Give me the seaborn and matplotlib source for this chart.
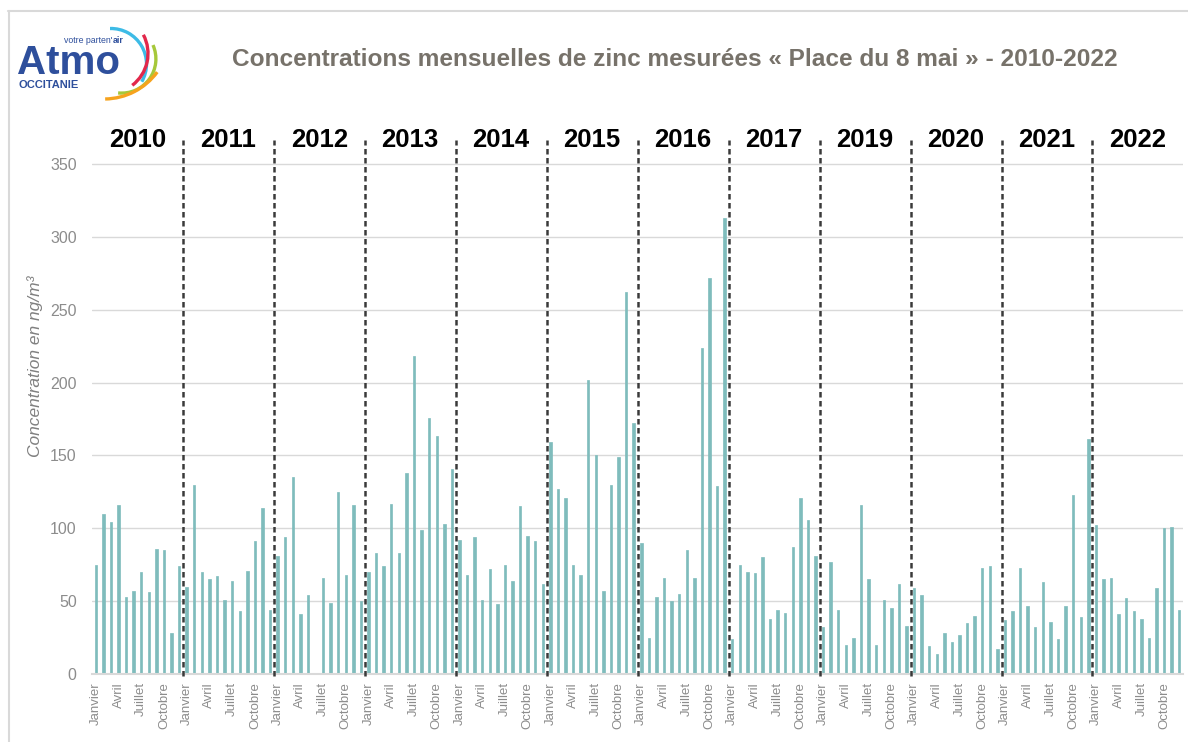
import numpy as np
import pandas as pd
import matplotlib
matplotlib.use("Agg")
import matplotlib.pyplot as plt
import seaborn as sns
from matplotlib import font_manager as fm
from matplotlib.patches import Arc
from matplotlib.lines import Line2D

# ---------------- data ----------------
years = ["2010", "2011", "2012", "2013", "2014", "2015", "2016", "2017", "2019", "2020", "2021", "2022"]
months = ["Janvier", "Février", "Mars", "Avril", "Mai", "Juin",
          "Juillet", "Août", "Septembre", "Octobre", "Novembre", "Décembre"]
shown_months = ["Janvier", "Avril", "Juillet", "Octobre"]

v2010 = [75, 110, 104, 116, 53, 57, 70, 56, 86, 85, 28, 74]
v2011 = [60, 130, 70, 65, 67, 51, 64, 43, 71, 91, 114, 44]
v2012 = [81, 94, 135, 41, 54, np.nan, 66, 49, 125, 68, 116, 50]
v2013 = [70, 83, 74, 117, 83, 138, 218, 99, 176, 163, 103, 141]
v2014 = [92, 68, 94, 51, 72, 48, 75, 64, 115, 95, 91, 62]
v2015 = [159, 127, 121, 75, 68, 202, 150, 57, 130, 149, 262, 172]
v2016 = [90, 25, 53, 66, 50, 55, 85, 66, 224, 272, 129, 313]
v2017 = [24, 75, 70, 69, 80, 38, 44, 42, 87, 121, 106, 81]
v2019 = [32, 77, 44, 20, 25, 116, 65, 20, 51, 45, 62, 33]
v2020 = [59, 54, 19, 14, 28, 22, 27, 35, 40, 73, 74, 17]
v2021 = [37, 43, 73, 47, 32, 63, 36, 24, 47, 123, 39, 161]
v2022 = [102, 65, 66, 41, 52, 43, 38, 25, 59, 100, 101, 44]

series = [v2010, v2011, v2012, v2013, v2014, v2015, v2016, v2017, v2019, v2020, v2021, v2022]

title = "Concentrations mensuelles de zinc mesurées « Place du 8 mai » - 2010-2022"
ylabel = "Concentration en ng/m³"
yticks = [0, 50, 100, 150, 200, 250, 300, 350]

# ---------------- fonts ----------------
names = {f.name for f in fm.fontManager.ttflist}
narrow = "Liberation Sans Narrow" if "Liberation Sans Narrow" in names else "Liberation Sans"
arial = "Liberation Sans"

rows = []
for y, vals in zip(years, series):
    for m, v in zip(months, vals):
        rows.append({"slot": f"{y}-{m}", "year": y, "month": m, "value": v})
df = pd.DataFrame(rows)
order = list(df["slot"])

sns.set_theme(style="white")
plt.rcParams["font.family"] = [arial, "DejaVu Sans"]

W, H = 1188, 742
fig = plt.figure(figsize=(W / 100, H / 100), dpi=100)
fig.patch.set_facecolor("white")

# plot area
left, right, bottom, top = 92, 1183, 674, 140
ax = fig.add_axes([left / W, 1 - bottom / H, (right - left) / W, (bottom - top) / H])
ymax = 350 * (bottom - top) / (bottom - 164)

bar_color = "#7fbcbc"
sns.barplot(data=df, x="slot", y="value", order=order, color=bar_color,
            width=0.32, errorbar=None, saturation=1, ax=ax,
            edgecolor=bar_color, linewidth=0.5)
ax.set_ylim(0, ymax)
ax.set_xlim(-0.5, len(order) - 0.5)

ax.set_yticks(yticks)
ax.set_yticklabels([str(t) for t in yticks], fontsize=11.5, color="#8c8c8c", family=narrow)
ax.yaxis.grid(True, color="#d9d9d9", lw=1)
ax.set_axisbelow(True)
ax.tick_params(axis="y", length=0, pad=11)

tick_pos = [i for i, m in enumerate(df["month"]) if m in shown_months]
ax.set_xticks(tick_pos)
ax.set_xticklabels([df["month"][i] for i in tick_pos], rotation=90, fontsize=9.5,
                   color="#8c8c8c", family=narrow)
ax.tick_params(axis="x", length=0, pad=6)
ax.set_xlabel("")
ax.set_ylabel("")
for s in ["top", "right", "left"]:
    ax.spines[s].set_visible(False)
ax.spines["bottom"].set_color("#d9d9d9")
ax.spines["bottom"].set_linewidth(1.5)

# year separators and labels
for k in range(1, len(years)):
    ax.plot([12 * k - 0.45] * 2, [-1.5, ymax], color="#3a3a3a", lw=1.8,
            ls=(0, (2.2, 1.4)), clip_on=False, zorder=5)
for k, y in enumerate(years):
    ax.text(12 * k + 5.5, ymax, y, ha="center", va="center", fontsize=18.5,
            fontweight="bold", color="black", family=arial, clip_on=False)

# y label
fig.text(35 / W, 1 - 366 / H, ylabel, rotation=90, ha="center", va="center",
         fontsize=12.5, style="italic", color="#808080", family=narrow)

# title
fig.text(675 / W, 1 - 60 / H, title, ha="center", va="center", fontsize=17.6,
         fontweight="bold", color="#77726a", family=narrow)

# outer frame
fig.add_artist(Line2D([8 / W, 1], [1 - 11 / H, 1 - 11 / H], color="#d9d9d9", lw=1.5))
fig.add_artist(Line2D([9 / W, 9 / W], [0, 1 - 11 / H], color="#d9d9d9", lw=1.5))

# logo
lax = fig.add_axes([12 / W, 1 - 120 / H, 188 / W, 100 / H])
lax.set_xlim(12, 200)
lax.set_ylim(120, 20)
lax.axis("off")
arcs = [((111, 64), 35.5, 91.6, -30, "#3dbbe6"),
        ((108, 53.5), 40, 27.9, -52.7, "#e2284b"),
        ((121.7, 58.9), 34.2, 23.9, -96, "#a6c83a"),
        ((104, 33), 66, -36.3, -89, "#f6a31e")]
for c, r, a1, a2, col in arcs:
    lax.add_patch(Arc(c, 2 * r, 2 * r, theta1=-a1, theta2=-a2, color=col, lw=2.4))
lax.text(17, 74, "Atmo", fontsize=29, fontweight="bold", color="#2e4f9c",
         ha="left", va="baseline", family=arial)
lax.text(18, 88, "OCCITANIE", fontsize=8, fontweight="bold", color="#2e4f9c",
         ha="left", va="baseline", family=arial)
lax.text(113, 43, "votre parten'", fontsize=6.3, color="#2e4f9c",
         ha="right", va="baseline", family=arial)
lax.text(113, 43, "air", fontsize=6.3, fontweight="bold", color="#2e4f9c",
         ha="left", va="baseline", family=arial)

fig.savefig("out.png", dpi=100, facecolor="white")
